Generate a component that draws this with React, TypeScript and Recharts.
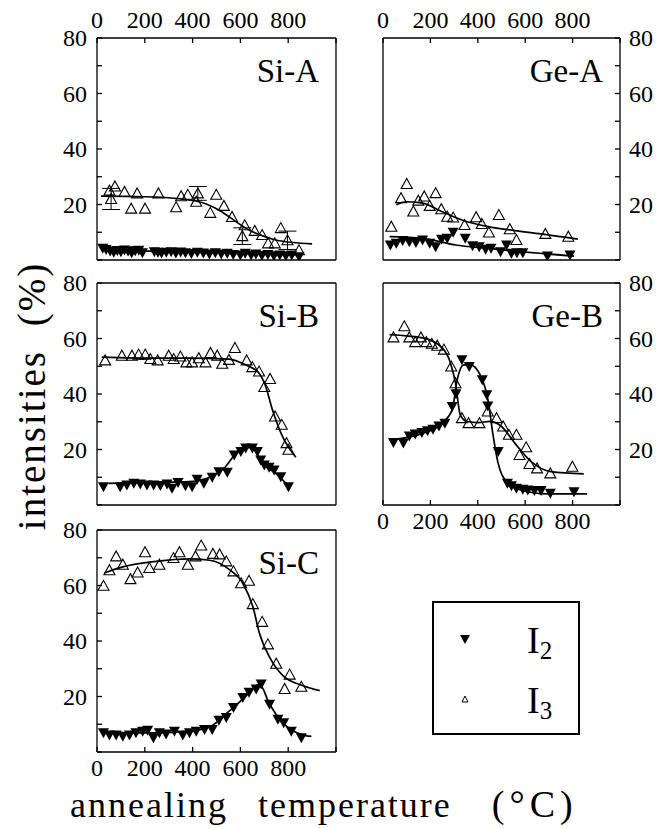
import React from 'react'
import { ComposedChart, Line, Scatter, XAxis, YAxis, ErrorBar, Legend } from 'recharts'

type Pt = [number, number]

// Si-A
const siA_I2: Pt[] = [[24, 4.2], [38, 3.8], [55, 3.2], [70, 2.8], [85, 3.4], [100, 3.0], [115, 3.6], [130, 3.2], [145, 2.6], [160, 3.3], [175, 3.5], [190, 2.6], [240, 3.0], [255, 2.8], [270, 2.5], [290, 2.8], [310, 3.0], [330, 2.5], [350, 2.9], [370, 2.6], [395, 2.3], [420, 2.8], [445, 2.5], [470, 2.2], [495, 2.6], [520, 2.2], [545, 2.4], [570, 2.0], [600, 1.8], [620, 2.4], [645, 1.8], [665, 2.2], [690, 1.6], [715, 2.0], [740, 1.5], [765, 1.8], [790, 1.5], [815, 1.8], [845, 1.2]]
const siA_I3: Pt[] = [[52, 25], [75, 26.5], [115, 24.5], [143, 18.5], [168, 24], [201, 18.5], [257, 24], [331, 19], [352, 23], [380, 23.5], [415, 21], [474, 17], [499, 23.5], [531, 19.5], [565, 15.5], [618, 12.5], [660, 10.5], [691, 9], [716, 6], [744, 6], [769, 11.5], [845, 3.5]]
const siA_I3err: [number, number, number][] = [[59, 22, 3.8], [422, 24, 2.5], [608, 8.6, 3], [797, 7.1, 3.3]]
const siA_fit2: Pt[] = [[17, 3.6], [300, 3.0], [600, 2.4], [856, 1.8]]
const siA_fit3: Pt[] = [[17, 23], [200, 22.8], [352, 22], [457, 20.2], [520, 17.5], [562, 15], [632, 11], [700, 8.5], [744, 7.3], [820, 6.3], [900, 5.8]]

// Ge-A
const geA_I2: Pt[] = [[31, 5.4], [56, 6], [83, 7], [111, 6.6], [139, 6.3], [167, 7.2], [197, 6], [222, 4.8], [247, 7.5], [271, 7.8], [296, 10], [347, 7.8], [378, 5.1], [406, 4.8], [433, 3.9], [456, 4.2], [496, 3], [521, 5.4], [542, 2.4], [565, 2.6], [590, 2.6], [694, 1.4], [789, 1.8]]
const geA_I3: Pt[] = [[35, 12], [76, 22.3], [100, 27.4], [128, 17.5], [149, 21.4], [174, 22.9], [197, 19.5], [222, 24.1], [246, 18.3], [271, 15.6], [296, 15.3], [344, 12.6], [393, 15.4], [417, 13], [447, 9.9], [489, 16.2], [535, 11.1], [563, 7.2], [685, 9.4], [782, 8.4]]
const geA_fit2: Pt[] = [[28, 8.4], [167, 7.8], [306, 5.4], [444, 4.2], [583, 3], [806, 1.4]]
const geA_fit3: Pt[] = [[56, 19.9], [97, 21], [167, 20.5], [250, 17.4], [333, 14.4], [444, 12], [556, 10.6], [667, 9.4], [822, 7.5]]

// Si-B
const siB_I2: Pt[] = [[27, 6.6], [97, 6.6], [125, 7.2], [154, 7.8], [181, 7.6], [209, 7.2], [237, 7.2], [265, 7], [293, 7.6], [314, 6], [339, 8.1], [370, 6.9], [398, 6.6], [419, 9.3], [447, 7.8], [482, 10], [510, 12], [545, 11.8], [574, 18], [602, 19.3], [622, 20.5], [650, 20.5], [671, 19.3], [685, 16.2], [700, 14.4], [720, 13.6], [741, 12.6], [769, 10.2], [801, 6.6]]
const siB_I3: Pt[] = [[34, 52.1], [104, 53.8], [146, 53.8], [174, 54.2], [202, 54.2], [223, 52.6], [254, 52.1], [300, 53.8], [321, 52.6], [349, 53.5], [374, 51.4], [398, 51.4], [426, 52.9], [454, 51.4], [475, 54.8], [503, 53.8], [524, 50.9], [552, 52.3], [577, 56.6], [626, 52.1], [650, 49.7], [678, 48.1], [700, 42.5], [724, 45.4], [745, 31.9], [773, 28.9], [793, 22.3], [801, 19.9]]
const siB_fit2: Pt[] = [[48, 7.8], [244, 8.1], [384, 8.4], [461, 9.6], [524, 12.6], [608, 20.5], [650, 20.8], [692, 15], [748, 11.4], [804, 6.6]]
const siB_fit3: Pt[] = [[20, 53.3], [244, 52.9], [384, 52.9], [552, 52.6], [622, 50.5], [678, 47.5], [706, 42.7], [734, 34.3], [776, 24.7], [832, 17.2]]

// Ge-B
const geB_I2: Pt[] = [[44, 22.5], [86, 22.3], [111, 24.9], [136, 25.6], [164, 26.1], [188, 26.8], [211, 27.3], [236, 28.5], [261, 29.5], [292, 35.5], [308, 40.1], [333, 52.3], [364, 49.9], [419, 45.1], [438, 39.7], [442, 35.7], [486, 19.3], [525, 7.8], [542, 6.9], [563, 6], [590, 5.7], [611, 5.4], [639, 5.2], [667, 5.2], [706, 4.2], [806, 4.8]]
const geB_I3: Pt[] = [[44, 60.4], [90, 64.4], [111, 60.4], [136, 58.7], [160, 60.4], [183, 58.7], [206, 58.1], [229, 57.4], [257, 56], [288, 49.9], [306, 43.9], [333, 31.3], [361, 29.5], [407, 29.5], [442, 33.7], [479, 31.3], [507, 28.3], [531, 25.3], [563, 25.3], [576, 18], [604, 20.8], [618, 14.8], [650, 13.2], [706, 11.4], [799, 13.8]]
const geB_fit2: Pt[] = [[28, 23.5], [167, 25.8], [250, 29.5], [292, 34.3], [313, 45.1], [340, 50.5], [368, 50.5], [410, 46.9], [444, 37.3], [461, 27.1], [486, 15], [528, 7.8], [583, 5.4], [694, 4], [861, 4]]
const geB_fit3: Pt[] = [[28, 61.4], [167, 60.2], [250, 56.6], [285, 51.1], [306, 43.9], [326, 32.5], [354, 30.1], [403, 29.7], [451, 30.1], [500, 28.3], [556, 22.3], [625, 15.6], [708, 12], [847, 11.2]]

// Si-C
const siC_I2: Pt[] = [[27, 6.9], [52, 6.1], [80, 6.1], [108, 5.7], [136, 6.1], [163, 6.9], [191, 7.5], [212, 7.8], [236, 5.1], [261, 6.9], [289, 6.5], [324, 7.5], [359, 6.1], [387, 6.9], [415, 7.5], [450, 8.1], [482, 8.1], [510, 11.4], [541, 12.4], [571, 16], [610, 19.6], [636, 21.5], [666, 22.7], [687, 24.5], [722, 17.2], [757, 11.8], [781, 10.5], [813, 7.5], [855, 5.1]]
const siC_I3: Pt[] = [[27, 59.9], [52, 65.5], [80, 70.5], [108, 67.5], [140, 62.3], [170, 64.7], [201, 72], [219, 66.3], [261, 67.5], [320, 69.9], [345, 72], [380, 67.5], [412, 70.5], [436, 74.4], [485, 71.4], [513, 71.2], [541, 68.7], [571, 65.1], [603, 60.8], [636, 61.7], [652, 53.3], [691, 46.9], [715, 38.8], [750, 31.8], [785, 22.7], [806, 27.9], [855, 23.5]]
const siC_fit2: Pt[] = [[24, 7.5], [108, 6.9], [247, 6.9], [387, 7.5], [471, 9], [554, 14.8], [624, 20.2], [680, 24.5], [722, 17.2], [778, 10.5], [862, 6.1], [897, 5.6]]
const siC_fit3: Pt[] = [[31, 64.5], [108, 66.7], [247, 68.7], [387, 69.6], [471, 69.1], [554, 65.7], [610, 60.8], [652, 52.4], [680, 42.7], [722, 34.2], [778, 27.5], [862, 23.9], [932, 22.1]]

const xTicks = [0, 100, 200, 300, 400, 500, 600, 700, 800, 900, 1000]
const xLabels = [0, 200, 400, 600, 800]
const yTicks = [0, 10, 20, 30, 40, 50, 60, 70, 80]
const yLabels = [20, 40, 60, 80]
const seriesNames = ['2', '3']

const FONT = '"Liberation Serif", "Times New Roman", serif'
const H = 222

const toObj = (a: Pt[]) => a.map(([x, y]) => ({ x, y }))

const downTri = (p: any) => (
  <path d={`M${p.cx - 5.5},${p.cy - 4.5}L${p.cx + 5.5},${p.cy - 4.5}L${p.cx},${p.cy + 5.5}Z`} fill="#000" />
)
const upTri = (p: any) => (
  <path d={`M${p.cx - 5.5},${p.cy + 4.5}L${p.cx + 5.5},${p.cy + 4.5}L${p.cx},${p.cy - 5.5}Z`} fill="none" stroke="#000" strokeWidth={1.1} />
)

const xTick = (p: any) =>
  xLabels.includes(p.payload.value) ? (
    <text x={p.x} y={p.y} textAnchor="middle" fontFamily={FONT} fontSize={24} fill="#000">
      {p.payload.value}
    </text>
  ) : (
    <g />
  )

const yTick = (anchor: 'start' | 'end') => (p: any) =>
  yLabels.includes(p.payload.value) ? (
    <text x={p.x} y={p.y} dy="0.35em" textAnchor={anchor} fontFamily={FONT} fontSize={24} fill="#000">
      {p.payload.value}
    </text>
  ) : (
    <g />
  )

const renderLegend = () => (
  <svg width={148} height={134} style={{ display: 'block' }}>
    <rect x={1} y={1} width={146} height={132} fill="#fff" stroke="#000" strokeWidth={2} />
    <path d="M28,34L38,34L33,43Z" fill="#000" />
    <path d="M30,101L36,101L33,95Z" fill="none" stroke="#000" strokeWidth={1} />
    <text x={95} y={52} fontFamily={FONT} fontSize={38} fill="#000">
      I<tspan fontSize={25} dy={6}>{seriesNames[0]}</tspan>
    </text>
    <text x={95} y={112} fontFamily={FONT} fontSize={38} fill="#000">
      I<tspan fontSize={25} dy={6}>{seriesNames[1]}</tspan>
    </text>
  </svg>
)

interface PanelProps {
  name: string
  left: number
  top: number
  width: number
  i2: Pt[]
  i3: Pt[]
  fit2: Pt[]
  fit3: Pt[]
  i3err?: [number, number, number][]
  xSide: 'top' | 'bottom' | 'none'
  ySide: 'left' | 'right'
  legend?: boolean
}

const Panel = ({ name, left, top, width, i2, i3, fit2, fit3, i3err, xSide, ySide, legend }: PanelProps) => {
  const extraRight = legend ? 214 : 0
  const axisStyle = { stroke: '#000', strokeWidth: 1.3 }
  return (
    <div style={{ position: 'absolute', left: left - 40, top: top - 30 }}>
      <ComposedChart
        width={40 + width + 40 + extraRight}
        height={30 + H + 30}
        margin={{ top: 0, right: extraRight, bottom: 0, left: 0 }}
      >
        <XAxis
          xAxisId="t"
          orientation="top"
          type="number"
          dataKey="x"
          domain={[0, 1000]}
          ticks={xTicks}
          height={30}
          allowDataOverflow
          axisLine={axisStyle}
          tickLine={axisStyle}
          tickSize={-5}
          tickMargin={15}
          tick={xSide === 'top' ? xTick : false}
        />
        <XAxis
          xAxisId="b"
          orientation="bottom"
          type="number"
          dataKey="x"
          domain={[0, 1000]}
          ticks={xTicks}
          height={30}
          allowDataOverflow
          axisLine={axisStyle}
          tickLine={axisStyle}
          tickSize={-5}
          tickMargin={29}
          tick={xSide === 'bottom' ? xTick : false}
        />
        <YAxis
          yAxisId="l"
          orientation="left"
          type="number"
          dataKey="y"
          domain={[0, 80]}
          ticks={yTicks}
          width={40}
          allowDataOverflow
          axisLine={axisStyle}
          tickLine={ySide === 'left' ? axisStyle : false}
          tickSize={-5}
          tickMargin={15}
          tick={ySide === 'left' ? yTick('end') : false}
        />
        <YAxis
          yAxisId="r"
          orientation="right"
          type="number"
          dataKey="y"
          domain={[0, 80]}
          ticks={yTicks}
          width={40}
          allowDataOverflow
          axisLine={axisStyle}
          tickLine={ySide === 'right' ? axisStyle : false}
          tickSize={-5}
          tickMargin={14}
          tick={ySide === 'right' ? yTick('start') : false}
        />
        <Line xAxisId="b" yAxisId="l" data={toObj(fit3)} dataKey="y" type="monotone" stroke="#000" strokeWidth={1.7} dot={false} isAnimationActive={false} />
        <Line xAxisId="b" yAxisId="l" data={toObj(fit2)} dataKey="y" type="monotone" stroke="#000" strokeWidth={1.7} dot={false} isAnimationActive={false} />
        <Scatter xAxisId="b" yAxisId="l" data={toObj(i3)} shape={upTri} isAnimationActive={false} />
        {i3err && (
          <Scatter
            xAxisId="b"
            yAxisId="l"
            data={i3err.map(([x, y, err]) => ({ x, y, err }))}
            shape={upTri}
            isAnimationActive={false}
          >
            <ErrorBar dataKey="err" direction="y" width={9} stroke="#000" strokeWidth={1} />
          </Scatter>
        )}
        <Scatter xAxisId="b" yAxisId="l" data={toObj(i2)} shape={downTri} isAnimationActive={false} />
        {legend && (
          <Legend
            layout="horizontal"
            verticalAlign="middle"
            align="center"
            content={renderLegend}
            wrapperStyle={{ position: 'absolute', left: 375, top: 101, width: 148, height: 134 }}
          />
        )}
      </ComposedChart>
      <div
        style={{
          position: 'absolute',
          left: 40,
          width: width - 17,
          top: 30 + 45 - 27.6,
          textAlign: 'right',
          fontFamily: FONT,
          fontSize: 33,
          lineHeight: 1,
          whiteSpace: 'nowrap',
        }}
      >
        {name}
      </div>
    </div>
  )
}

export default function App() {
  return (
    <div style={{ position: 'absolute', left: 0, top: 0, width: 670, height: 828, background: '#fff', overflow: 'hidden' }}>
      <Panel name="Si-A" left={97} top={38} width={239} i2={siA_I2} i3={siA_I3} i3err={siA_I3err} fit2={siA_fit2} fit3={siA_fit3} xSide="top" ySide="left" />
      <Panel name="Ge-A" left={383} top={38} width={237} i2={geA_I2} i3={geA_I3} fit2={geA_fit2} fit3={geA_fit3} xSide="top" ySide="right" />
      <Panel name="Si-B" left={97} top={283} width={239} i2={siB_I2} i3={siB_I3} fit2={siB_fit2} fit3={siB_fit3} xSide="none" ySide="left" />
      <Panel name="Ge-B" left={383} top={283} width={237} i2={geB_I2} i3={geB_I3} fit2={geB_fit2} fit3={geB_fit3} xSide="bottom" ySide="right" />
      <Panel name="Si-C" left={97} top={530} width={239} i2={siC_I2} i3={siC_I3} fit2={siC_fit2} fit3={siC_fit3} xSide="bottom" ySide="left" legend />
      <div
        style={{
          position: 'absolute',
          left: 31,
          top: 396,
          transform: 'translate(-50%, -50%) rotate(-90deg)',
          fontFamily: FONT,
          fontSize: 39,
          letterSpacing: 2,
          wordSpacing: 12,
          whiteSpace: 'nowrap',
          lineHeight: 1,
        }}
      >
        intensities (%)
      </div>
      <div
        style={{
          position: 'absolute',
          left: 70,
          top: 784,
          fontFamily: FONT,
          fontSize: 36,
          letterSpacing: 2,
          wordSpacing: 19,
          whiteSpace: 'nowrap',
          lineHeight: 1.1,
        }}
      >
        annealing temperature{' '}
        <span style={{ marginLeft: 10, fontSize: 38, letterSpacing: 5 }}>(°C)</span>
      </div>
    </div>
  )
}
